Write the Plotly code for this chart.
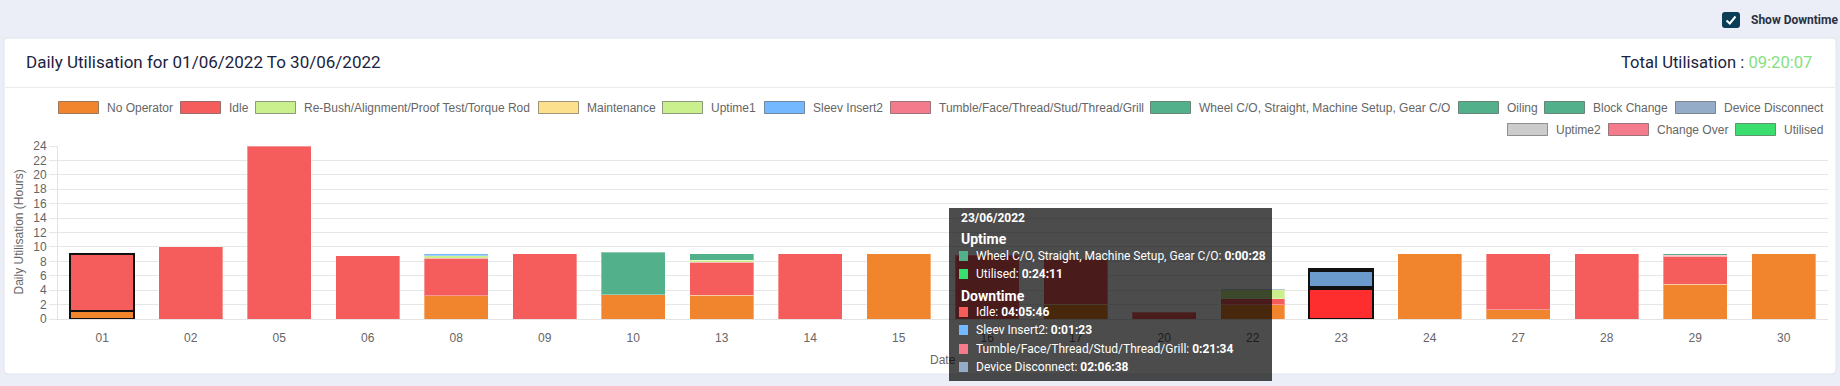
import plotly.graph_objects as go

# ---------------- data ----------------
days = ['01', '02', '05', '06', '08', '09', '10', '13', '14', '15',
        '16', '17', '20', '22', '23', '24', '27', '28', '29', '30']

series_names = ['No Operator', 'Idle', 'Re-Bush/Alignment/Proof Test/Torque Rod', 'Maintenance',
                'Uptime1', 'Sleev Insert2', 'Tumble/Face/Thread/Stud/Thread/Grill',
                'Wheel C/O, Straight, Machine Setup, Gear C/O', 'Oiling', 'Block Change',
                'Device Disconnect', 'Uptime2', 'Change Over', 'Utilised']
series_colors = ['#f0852d', '#f55c5c', '#c9f08c', '#fde08e', '#c9f08c', '#74b9ff', '#f37b8b',
                 '#52b08a', '#52b08a', '#52b08a', '#94acc8', '#cccccc', '#f37b8b', '#3ade6e']
hover_colors = ['#ff7a10', '#ff2e2e', '#b8f060', '#ffd460', '#b8f060', '#4aa3ff', '#ff5c75',
                '#2aa070', '#2aa070', '#2aa070', '#6b9bcc', '#b0b0b0', '#ff5c75', '#20e055']

N = None
no_operator   = [1.15, N, N, N, 3.23, N, 3.37, 3.28, N, 9.05, N, 2.04, N, 1.97, N, 9.05, 1.28, N, 4.79, 9.05]
idle          = [7.80, 10.02, 24.0, 8.78, 5.22, 9.05, N, 4.57, 9.05, N, 8.85, 6.26, 0.97, 0.83, 4.096, N, 7.77, 9.05, 3.92, N]
re_bush       = [N, N, N, N, 0.35, N, N, 0.27, N, N, N, N, N, 1.25, N, N, N, N, N, N]
maintenance   = [N] * 20
uptime1       = [N] * 20
sleev_insert2 = [N, N, N, N, 0.24, N, N, N, N, N, N, N, N, N, 0.023, N, N, N, N, N]
tumble        = [N, N, N, N, N, N, N, N, N, N, N, N, N, N, 0.359, N, N, N, 0.12, N]
wheel_co      = [N, N, N, N, N, N, 5.86, 0.93, N, N, N, N, N, N, 0.008, N, N, N, 0.20, N]
oiling        = [N] * 20
block_change  = [N] * 20
device_disc   = [N, N, N, N, N, N, N, N, N, N, N, N, N, 0.14, 2.111, N, N, N, N, N]
uptime2       = [N] * 20
change_over   = [N] * 20
utilised      = [N, N, N, N, N, N, N, N, N, N, N, N, N, N, 0.403, N, N, N, N, N]

series_values = [no_operator, idle, re_bush, maintenance, uptime1, sleev_insert2, tumble,
                 wheel_co, oiling, block_change, device_disc, uptime2, change_over, utilised]

highlighted_days = ['01', '23']
hovered_day = '23'

tooltip_title = '23/06/2022'
tooltip_uptime = [('Wheel C/O, Straight, Machine Setup, Gear C/O', '0:00:28', '#52b08a'),
                  ('Utilised', '0:24:11', '#3ade6e')]
tooltip_downtime = [('Idle', '04:05:46', '#f55c5c'),
                    ('Sleev Insert2', '0:01:23', '#74b9ff'),
                    ('Tumble/Face/Thread/Stud/Thread/Grill', '0:21:34', '#f37b8b'),
                    ('Device Disconnect', '02:06:38', '#94acc8')]

# ---------------- geometry helpers (pixels -> paper) ----------------
W, H = 1840, 386
PL, PR, PT, PB = 58, 1828, 146, 319
PAGE_BG = '#ebeef6'


def fx(px):
    return (px - PL) / (PR - PL)


def fy(py):
    return (PB - py) / (PB - PT)


def rrect(x0, y0, x1, y1, r):
    pts = [
        f"M{fx(x0 + r)},{fy(y0)}", f"L{fx(x1 - r)},{fy(y0)}", f"Q{fx(x1)},{fy(y0)} {fx(x1)},{fy(y0 + r)}",
        f"L{fx(x1)},{fy(y1 - r)}", f"Q{fx(x1)},{fy(y1)} {fx(x1 - r)},{fy(y1)}",
        f"L{fx(x0 + r)},{fy(y1)}", f"Q{fx(x0)},{fy(y1)} {fx(x0)},{fy(y1 - r)}",
        f"L{fx(x0)},{fy(y0 + r)}", f"Q{fx(x0)},{fy(y0)} {fx(x0 + r)},{fy(y0)}", "Z"]
    return " ".join(pts)


fig = go.Figure()

for name, vals, col, hcol in zip(series_names, series_values, series_colors, hover_colors):
    fig.add_trace(go.Bar(
        x=days, y=vals, name=name,
        marker=dict(
            color=[hcol if d == hovered_day else col for d in days],
            line=dict(color=['#111111' if d in highlighted_days else 'rgba(255,255,255,0.35)' for d in days],
                      width=[2 if d in highlighted_days else 1 for d in days])),
        hoverinfo='skip', showlegend=False))

ARIAL = 'Liberation Sans, Arial, sans-serif'
ROBOTO = 'Roboto, sans-serif'
GREY = '#666666'

shapes = []
annotations = []

# card background
shapes.append(dict(type='path', xref='paper', yref='paper', layer='below',
                   path=rrect(4, 38, 1836, 374, 5), fillcolor='#ffffff',
                   line=dict(color='#e2e5ee', width=1)))
# divider under header
shapes.append(dict(type='line', xref='paper', yref='paper', layer='below',
                   x0=fx(5), x1=fx(1835), y0=fy(87.5), y1=fy(87.5),
                   line=dict(color='#ebebeb', width=1)))
# checkbox
shapes.append(dict(type='path', xref='paper', yref='paper', layer='above',
                   path=rrect(1722, 12, 1740, 28, 3), fillcolor='#0b3d57', line=dict(width=0)))
shapes.append(dict(type='path', xref='paper', yref='paper', layer='above',
                   path=f"M{fx(1726.5)},{fy(20.5)} L{fx(1729.8)},{fy(23.5)} L{fx(1735.5)},{fy(16.5)}",
                   line=dict(color='#ffffff', width=2)))

annotations.append(dict(xref='paper', yref='paper', x=fx(1749), y=fy(20), xanchor='left', yanchor='middle',
                        text='<b>Show Downtime</b>', showarrow=False,
                        font=dict(family=ROBOTO, size=12, color='#2a3142')))

# header texts
annotations.append(dict(xref='paper', yref='paper', x=fx(24), y=fy(62.5), xanchor='left', yanchor='middle',
                        text='Daily Utilisation for 01/06/2022 To 30/06/2022', showarrow=False,
                        font=dict(family=ROBOTO, size=17, color='#1c2340')))
annotations.append(dict(xref='paper', yref='paper', x=fx(1814), y=fy(62.5), xanchor='right', yanchor='middle',
                        text="Total Utilisation : <span style='color:#86e07f'>09:20:07</span>",
                        showarrow=False, font=dict(family=ROBOTO, size=16.6, color='#1c2340')))

# axis titles
annotations.append(dict(xref='paper', yref='paper', x=fx(18), y=fy(232.5), xanchor='center', yanchor='middle',
                        text='Daily Utilisation (Hours)', textangle=-90, showarrow=False,
                        font=dict(family=ARIAL, size=12, color=GREY)))
annotations.append(dict(xref='paper', yref='paper', x=0.5, y=fy(360), xanchor='center', yanchor='middle',
                        text='Date', showarrow=False, font=dict(family=ARIAL, size=12, color=GREY)))

# custom legend (chart.js style wide swatches)
legend_rows = [(107.5, [58, 180, 255, 538, 662, 764, 890, 1150, 1458, 1544, 1675]),
               (129.5, [1507, 1608, 1735])]
idx = 0
for row_y, lefts in legend_rows:
    for left in lefts:
        shapes.append(dict(type='rect', xref='paper', yref='paper', layer='above',
                           x0=fx(left + 0.5), x1=fx(left + 40.5), y0=fy(row_y - 6), y1=fy(row_y + 6),
                           fillcolor=series_colors[idx], line=dict(color='rgba(0,0,0,0.38)', width=1)))
        annotations.append(dict(xref='paper', yref='paper', x=fx(left + 47), y=fy(row_y),
                                xanchor='left', yanchor='middle', text=series_names[idx], showarrow=False,
                                font=dict(family=ARIAL, size=12, color=GREY)))
        idx += 1

# tooltip overlay
annotations.append(dict(xref='paper', yref='paper', x=fx(949), y=fy(208), xanchor='left', yanchor='top',
                        text=' ', width=323, height=173, bgcolor='rgba(0,0,0,0.7)', borderpad=0,
                        borderwidth=0, showarrow=False))
annotations.append(dict(xref='paper', yref='paper', x=fx(959), y=fy(217.5), xanchor='left', yanchor='middle',
                        text=f'<b>{tooltip_title}</b>', showarrow=False,
                        font=dict(family=ROBOTO, size=12, color='#ffffff')))
annotations.append(dict(xref='paper', yref='paper', x=fx(959), y=fy(239), xanchor='left', yanchor='middle',
                        text='<b>Uptime</b>', showarrow=False,
                        font=dict(family=ROBOTO, size=14, color='#ffffff')))
annotations.append(dict(xref='paper', yref='paper', x=fx(959), y=fy(296), xanchor='left', yanchor='middle',
                        text='<b>Downtime</b>', showarrow=False,
                        font=dict(family=ROBOTO, size=14, color='#ffffff')))

item_rows = list(zip(tooltip_uptime, [256, 274])) + list(zip(tooltip_downtime, [311.5, 330, 348.5, 367]))
for (label, val, col), yy in item_rows:
    annotations.append(dict(xref='paper', yref='paper', x=fx(959), y=fy(yy), xanchor='left', yanchor='middle',
                            text=' ', width=9, height=10, bgcolor=col, borderpad=0, borderwidth=0,
                            showarrow=False, font=dict(size=8)))
    annotations.append(dict(xref='paper', yref='paper', x=fx(974), y=fy(yy), xanchor='left', yanchor='middle',
                            text=f'{label}: <b>{val}</b>', showarrow=False,
                            font=dict(family=ROBOTO, size=12, color='#ffffff')))

fig.update_layout(
    width=W, height=H, autosize=False,
    margin=dict(l=PL, r=W - PR, t=PT, b=H - PB, pad=0),
    barmode='stack', bargap=0.28,
    paper_bgcolor=PAGE_BG, plot_bgcolor='rgba(0,0,0,0)',
    showlegend=False,
    font=dict(family=ARIAL, size=12, color=GREY),
    shapes=shapes, annotations=annotations,
)
fig.update_xaxes(type='category', categoryorder='array', categoryarray=days,
                 range=[-0.5, len(days) - 0.5], showgrid=False, zeroline=False,
                 showline=True, linecolor='#e3e3e3', linewidth=1,
                 ticks='outside', ticklen=8, tickcolor='rgba(0,0,0,0)',
                 tickfont=dict(family=ARIAL, size=12, color=GREY), fixedrange=True)
fig.update_yaxes(range=[0, 24], tick0=0, dtick=2, showgrid=True, gridcolor='#e6e6e6', gridwidth=1,
                 zeroline=False, showline=True, linecolor='#e3e3e3', linewidth=1,
                 ticks='outside', ticklen=8, tickcolor='#e6e6e6',
                 tickfont=dict(family=ARIAL, size=12, color=GREY), fixedrange=True)

page_css = ("document.body.style.margin='0';document.body.style.padding='0';"
            "document.body.style.overflow='hidden';document.body.style.background='" + PAGE_BG + "';")
fig.write_html('out.html', config={'displayModeBar': False}, post_script=page_css)
